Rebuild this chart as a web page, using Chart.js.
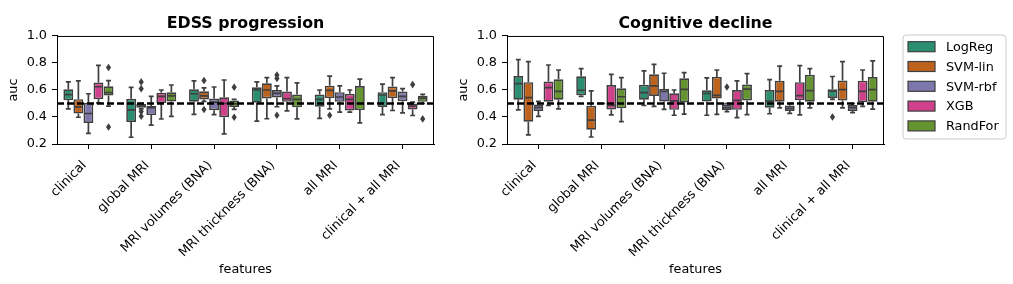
<!DOCTYPE html>
<html>
<head>
<meta charset="utf-8">
<script src="https://cdn.jsdelivr.net/npm/chart.js@4.4.1/dist/chart.umd.min.js"></script>
<style>
  body { margin: 0; background: #fff; }
  #wrap { position: relative; width: 1013px; height: 284px; }
  #edss { position: absolute; left: 0; top: 0; }
  #cog { position: absolute; left: 450px; top: 0; }
</style>
</head>
<body>
<div id="wrap">
  <canvas id="edss" width="450" height="284"></canvas>
  <canvas id="cog" width="563" height="284"></canvas>
</div>
<script>
const FEATURES = ['clinical', 'global MRI', 'MRI volumes (BNA)', 'MRI thickness (BNA)', 'all MRI', 'clinical + all MRI'];
const MODELS = ['LogReg', 'SVM-lin', 'SVM-rbf', 'XGB', 'RandFor'];
const COLORS = ['#2b8e70', '#be631d', '#7c78ab', '#cf418a', '#659531'];
const Y_TICKS = [0.2, 0.4, 0.6, 0.8, 1.0];
const CHANCE = 0.5;

// each entry: [lower whisker, q1, median, q3, upper whisker], one per feature set
const EDSS_LOGREG  = [[0.46, 0.525, 0.565, 0.605, 0.66], [0.25, 0.363, 0.452, 0.535, 0.62], [0.42, 0.513, 0.572, 0.605, 0.667], [0.37, 0.506, 0.60, 0.62, 0.66], [0.39, 0.476, 0.53, 0.566, 0.60], [0.418, 0.474, 0.563, 0.584, 0.644]];
const EDSS_SVMLIN  = [[0.398, 0.425, 0.475, 0.532, 0.668], [0.46, 0.468, 0.48, 0.496, 0.50], [0.515, 0.53, 0.556, 0.59, 0.615], [0.387, 0.537, 0.60, 0.65, 0.692], [0.46, 0.54, 0.597, 0.632, 0.703], [0.448, 0.54, 0.594, 0.625, 0.692]];
const EDSS_SVMRBF  = [[0.279, 0.355, 0.426, 0.505, 0.572], [0.34, 0.414, 0.47, 0.481, 0.553], [0.417, 0.45, 0.51, 0.537, 0.622], [0.476, 0.545, 0.575, 0.60, 0.63], [0.436, 0.512, 0.548, 0.584, 0.63], [0.43, 0.517, 0.553, 0.589, 0.61]];
const EDSS_XGB     = [[0.505, 0.532, 0.624, 0.655, 0.782], [0.385, 0.503, 0.552, 0.58, 0.60], [0.275, 0.398, 0.50, 0.546, 0.674], [0.445, 0.512, 0.535, 0.589, 0.692], [0.436, 0.448, 0.53, 0.572, 0.60], [0.411, 0.456, 0.48, 0.50, 0.51]];
const EDSS_RANDFOR = [[0.48, 0.559, 0.58, 0.628, 0.67], [0.405, 0.514, 0.556, 0.583, 0.637], [0.457, 0.474, 0.498, 0.523, 0.53], [0.386, 0.473, 0.53, 0.566, 0.652], [0.357, 0.451, 0.50, 0.63, 0.68], [0.50, 0.512, 0.539, 0.558, 0.567]];

const EDSS_FLIERS_LOGREG  = [[], [], [], [], [], []];
const EDSS_FLIERS_SVMLIN  = [[], [0.66, 0.61, 0.44, 0.405], [0.67, 0.455], [], [0.413], []];
const EDSS_FLIERS_SVMRBF  = [[], [], [], [0.71, 0.685, 0.413], [], []];
const EDSS_FLIERS_XGB     = [[], [], [], [], [], [0.64]];
const EDSS_FLIERS_RANDFOR = [[0.766, 0.326], [], [0.62, 0.398], [], [], [0.386]];

const COG_LOGREG  = [[0.452, 0.528, 0.647, 0.704, 0.825], [0.553, 0.561, 0.598, 0.702, 0.758], [0.485, 0.528, 0.58, 0.638, 0.742], [0.413, 0.514, 0.574, 0.598, 0.69], [0.424, 0.468, 0.518, 0.60, 0.677], [0.531, 0.541, 0.592, 0.606, 0.70]];
const COG_SVMLIN  = [[0.267, 0.365, 0.543, 0.658, 0.81], [0.252, 0.305, 0.377, 0.483, 0.593], [0.478, 0.555, 0.63, 0.716, 0.789], [0.42, 0.536, 0.56, 0.697, 0.748], [0.467, 0.513, 0.589, 0.668, 0.777], [0.467, 0.523, 0.603, 0.67, 0.81]];
const COG_SVMRBF  = [[0.405, 0.445, 0.471, 0.493, 0.516], [0.50, 0.50, 0.50, 0.50, 0.50], [0.456, 0.514, 0.589, 0.608, 0.724], [0.44, 0.452, 0.47, 0.494, 0.50], [0.427, 0.444, 0.464, 0.485, 0.50], [0.432, 0.444, 0.469, 0.489, 0.50]];
const COG_XGB     = [[0.485, 0.513, 0.618, 0.663, 0.785], [0.415, 0.456, 0.486, 0.636, 0.715], [0.413, 0.453, 0.52, 0.575, 0.60], [0.395, 0.453, 0.523, 0.60, 0.667], [0.415, 0.524, 0.558, 0.658, 0.78], [0.478, 0.509, 0.59, 0.669, 0.748]];
const COG_RANDFOR = [[0.46, 0.528, 0.59, 0.68, 0.748], [0.366, 0.465, 0.55, 0.613, 0.692], [0.421, 0.508, 0.605, 0.686, 0.728], [0.417, 0.523, 0.606, 0.641, 0.721], [0.468, 0.513, 0.595, 0.713, 0.758], [0.458, 0.513, 0.602, 0.696, 0.816]];

const COG_FLIERS_LOGREG  = [[], [], [], [], [], [0.40]];
const COG_FLIERS_SVMLIN  = [[], [], [], [], [], []];
const COG_FLIERS_SVMRBF  = [[], [], [], [0.622], [], []];
const COG_FLIERS_XGB     = [[], [], [], [], [], []];
const COG_FLIERS_RANDFOR = [[], [], [], [], [], []];

const FONT = 'DejaVu Sans';
const GRAY = '#3f3f3f';
const LW = 1.7;

// whiskers, medians, fliers, chance line, top/right spines, legend
const boxExtras = {
  id: 'boxExtras',
  afterDatasetsDraw(chart) {
    const { ctx, chartArea: a, scales: { y } } = chart;
    ctx.save();
    ctx.strokeStyle = GRAY;
    ctx.fillStyle = GRAY;
    ctx.lineWidth = LW;
    chart.data.datasets.forEach((ds, i) => {
      const meta = chart.getDatasetMeta(i);
      ds.stats.forEach((s, j) => {
        const el = meta.data[j];
        const x = el.x, w = el.width;
        const [lo, q1, med, q3, hi] = s.map(v => y.getPixelForValue(v));
        ctx.beginPath();
        ctx.moveTo(x, q1); ctx.lineTo(x, lo);
        ctx.moveTo(x, q3); ctx.lineTo(x, hi);
        ctx.moveTo(x - w / 4, lo); ctx.lineTo(x + w / 4, lo);
        ctx.moveTo(x - w / 4, hi); ctx.lineTo(x + w / 4, hi);
        ctx.moveTo(x - w / 2 + 1, med); ctx.lineTo(x + w / 2 - 1, med);
        ctx.stroke();
        ds.fliers[j].forEach(v => {
          const py = y.getPixelForValue(v);
          ctx.beginPath();
          ctx.moveTo(x, py - 3.8);
          ctx.lineTo(x + 2.6, py);
          ctx.lineTo(x, py + 3.8);
          ctx.lineTo(x - 2.6, py);
          ctx.closePath();
          ctx.fill();
        });
      });
    });

    const yc = y.getPixelForValue(CHANCE);
    ctx.strokeStyle = '#000';
    ctx.lineWidth = 2.4;
    ctx.setLineDash([7, 3]);
    ctx.beginPath();
    ctx.moveTo(a.left, yc);
    ctx.lineTo(a.right, yc);
    ctx.stroke();
    ctx.setLineDash([]);

    ctx.lineWidth = 1;
    ctx.beginPath();
    ctx.moveTo(a.left, a.top + 0.5);
    ctx.lineTo(a.right - 0.5, a.top + 0.5);
    ctx.lineTo(a.right - 0.5, a.bottom);
    ctx.stroke();
    ctx.restore();
  },
  afterDraw(chart) {
    if (!chart.config.options.showBoxLegend) return;
    const { ctx, chartArea: a } = chart;
    const left = a.right + 19, top = 35, w = 103, h = 104, r = 3;
    ctx.save();
    ctx.fillStyle = 'rgba(255,255,255,0.8)';
    ctx.strokeStyle = '#cccccc';
    ctx.lineWidth = 1;
    ctx.beginPath();
    ctx.moveTo(left + r, top);
    ctx.arcTo(left + w, top, left + w, top + h, r);
    ctx.arcTo(left + w, top + h, left, top + h, r);
    ctx.arcTo(left, top + h, left, top, r);
    ctx.arcTo(left, top, left + w, top, r);
    ctx.closePath();
    ctx.fill();
    ctx.stroke();
    ctx.font = '12.8px ' + FONT;
    ctx.textBaseline = 'middle';
    MODELS.forEach((m, i) => {
      const cy = top + 11.7 + i * 19.8;
      ctx.fillStyle = COLORS[i];
      ctx.fillRect(left + 5, cy - 5, 27, 10);
      ctx.strokeStyle = GRAY;
      ctx.lineWidth = 1.2;
      ctx.strokeRect(left + 5, cy - 5, 27, 10);
      ctx.fillStyle = '#000';
      ctx.fillText(m, left + 43, cy + 1);
    });
    ctx.restore();
  }
};

function buildChart(canvasId, titleText, stats, fliers, withLegend) {
  const datasets = MODELS.map((m, i) => ({
    label: m,
    data: stats[i].map(s => [s[1], s[3]]),
    stats: stats[i],
    fliers: fliers[i],
    backgroundColor: COLORS[i],
    borderColor: GRAY,
    borderWidth: LW,
    borderSkipped: false,
    categoryPercentage: 0.8,
    barPercentage: 0.98
  }));
  return new Chart(document.getElementById(canvasId), {
    type: 'bar',
    data: { labels: FEATURES, datasets: datasets },
    options: {
      responsive: false,
      animation: false,
      showBoxLegend: withLegend,
      layout: { padding: { left: 0, right: withLegend ? 129 : 16, top: 0, bottom: 0 } },
      plugins: {
        legend: { display: false },
        tooltip: { enabled: false },
        title: {
          display: true,
          text: titleText,
          fullSize: false,
          color: '#000',
          font: { family: FONT, size: 15.8, weight: 'bold' },
          padding: { top: 14.5, bottom: 2.5 }
        }
      },
      scales: {
        x: {
          offset: true,
          grid: { display: true, drawOnChartArea: false, drawTicks: true, tickLength: 5, offset: false, color: '#000' },
          border: { display: true, color: '#000', width: 1 },
          ticks: { color: '#000', font: { family: FONT, size: 12.8 }, minRotation: 45, maxRotation: 45, autoSkip: false, padding: 9, labelOffset: -4 },
          title: { display: true, text: 'features', color: '#000', font: { family: FONT, size: 12.8 }, padding: { top: 0, bottom: 6.3 } },
          afterFit: s => { s.height = 140; }
        },
        y: {
          min: 0.2,
          max: 1.0,
          grid: { display: true, drawOnChartArea: false, drawTicks: true, tickLength: 5, color: '#000' },
          border: { display: true, color: '#000', width: 1 },
          ticks: { color: '#000', font: { family: FONT, size: 12.8 }, padding: 5, callback: v => v.toFixed(1) },
          afterBuildTicks: s => { s.ticks = Y_TICKS.map(v => ({ value: v })); },
          title: { display: true, text: 'auc', color: '#000', font: { family: FONT, size: 12.8 }, padding: { top: 6, bottom: 0 } },
          afterFit: s => { s.width = 57; }
        }
      }
    },
    plugins: [boxExtras]
  });
}

buildChart('edss', 'EDSS progression',
  [EDSS_LOGREG, EDSS_SVMLIN, EDSS_SVMRBF, EDSS_XGB, EDSS_RANDFOR],
  [EDSS_FLIERS_LOGREG, EDSS_FLIERS_SVMLIN, EDSS_FLIERS_SVMRBF, EDSS_FLIERS_XGB, EDSS_FLIERS_RANDFOR],
  false);

buildChart('cog', 'Cognitive decline',
  [COG_LOGREG, COG_SVMLIN, COG_SVMRBF, COG_XGB, COG_RANDFOR],
  [COG_FLIERS_LOGREG, COG_FLIERS_SVMLIN, COG_FLIERS_SVMRBF, COG_FLIERS_XGB, COG_FLIERS_RANDFOR],
  true);
</script>
</body>
</html>
